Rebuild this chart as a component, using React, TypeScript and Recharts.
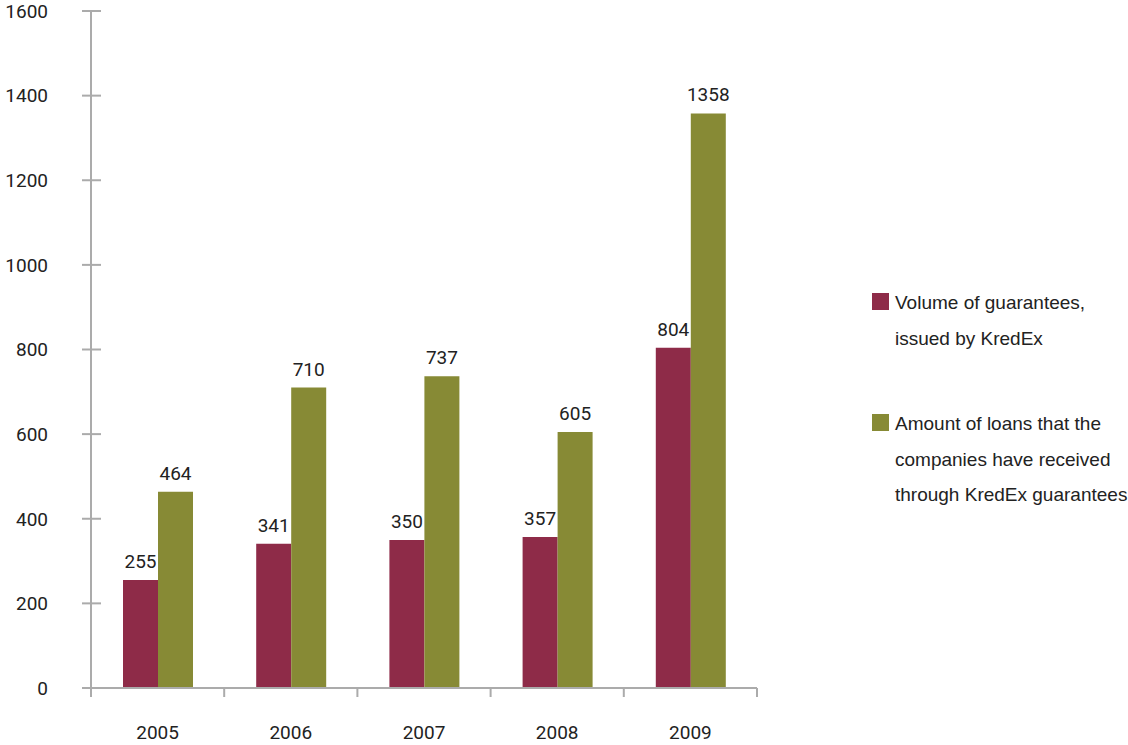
import { Bar, BarChart, LabelList, XAxis, YAxis } from "recharts";

const years = ["2005", "2006", "2007", "2008", "2009"];
const guarantees = [255, 341, 350, 357, 804];
const loans = [464, 710, 737, 605, 1358];
const yTicks = [0, 200, 400, 600, 800, 1000, 1200, 1400, 1600];

const seriesNames = [
  ["Volume of guarantees,", "issued by KredEx"],
  ["Amount of loans that the", "companies have received", "through KredEx guarantees"],
];
const seriesColors = ["#8E2B48", "#878A35"];

const data = years.map((year, i) => ({ year, guarantees: guarantees[i], loans: loans[i] }));

const AXIS = "#ababab";
const TEXT = "#222";
const NUM_FONT = "Roboto, 'Liberation Sans', Arial, sans-serif";
const FONT = "'Liberation Sans', Arial, sans-serif";

function YTick(props: any) {
  const { x, y, payload } = props;
  const axisX = x + 43;
  return (
    <g>
      <line x1={axisX - 9} x2={axisX + 10} y1={y} y2={y} stroke={AXIS} strokeWidth={2} />
      <text x={x} y={y} dy="0.36em" textAnchor="end" fill={TEXT} fontSize={19} fontFamily={NUM_FONT}>
        {payload.value}
      </text>
    </g>
  );
}

function XTick(props: any) {
  const { x, y, payload, index } = props;
  const axisY = y - 38;
  const left = payload.coordinate - payload.offset;
  const right = payload.coordinate + payload.offset;
  return (
    <g>
      <line x1={left} x2={left} y1={axisY} y2={axisY + 9} stroke={AXIS} strokeWidth={2} />
      {index === years.length - 1 && (
        <line x1={right} x2={right} y1={axisY} y2={axisY + 9} stroke={AXIS} strokeWidth={2} />
      )}
      <text x={x} y={y} dy="0.71em" textAnchor="middle" fill={TEXT} fontSize={19} fontFamily={NUM_FONT}>
        {payload.value}
      </text>
    </g>
  );
}

export default function App() {
  return (
    <div style={{ position: "absolute", left: 0, top: 0, width: 1128, height: 745, background: "#fff" }}>
      <BarChart
        width={1128}
        height={745}
        data={data}
        margin={{ top: 11, right: 371, bottom: 0, left: 0 }}
        barGap={0}
        barSize={35}
      >
        <XAxis
          dataKey="year"
          height={57}
          tickSize={8}
          tickMargin={30}
          tickLine={false}
          axisLine={{ stroke: AXIS, strokeWidth: 2 }}
          tick={<XTick />}
          interval={0}
        />
        <YAxis
          width={91}
          domain={[0, 1600]}
          ticks={yTicks}
          tickSize={8}
          tickMargin={35}
          tickLine={false}
          axisLine={{ stroke: AXIS, strokeWidth: 2 }}
          tick={<YTick />}
          interval={0}
        />
        <Bar dataKey="guarantees" fill={seriesColors[0]} isAnimationActive={false}>
          <LabelList dataKey="guarantees" position="top" offset={12} fill={TEXT} fontSize={19} fontFamily={NUM_FONT} />
        </Bar>
        <Bar dataKey="loans" fill={seriesColors[1]} isAnimationActive={false}>
          <LabelList dataKey="loans" position="top" offset={12} fill={TEXT} fontSize={19} fontFamily={NUM_FONT} />
        </Bar>
      </BarChart>
      <div style={{ position: "absolute", left: 872, top: 285, fontFamily: FONT, fontSize: 19, color: TEXT }}>
        {seriesNames.map((lines, i) => (
          <div key={i} style={{ display: "flex", alignItems: "flex-start", marginBottom: 50 }}>
            <div style={{ width: 17, height: 17, marginTop: 8, background: seriesColors[i], flexShrink: 0 }} />
            <div style={{ marginLeft: 6, lineHeight: "35.5px", whiteSpace: "nowrap" }}>
              {lines.map((l) => (
                <div key={l}>{l}</div>
              ))}
            </div>
          </div>
        ))}
      </div>
    </div>
  );
}
